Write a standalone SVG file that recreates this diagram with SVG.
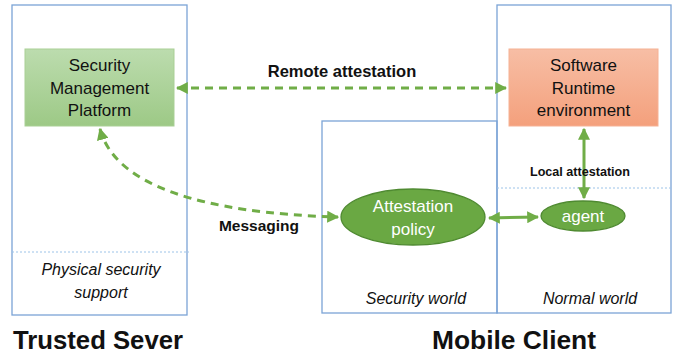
<svg xmlns="http://www.w3.org/2000/svg" width="684" height="356" viewBox="0 0 684 356">
  <defs>
    <linearGradient id="gGreen" x1="0" y1="0" x2="0" y2="1">
      <stop offset="0" stop-color="#bcdcae"/>
      <stop offset="1" stop-color="#9dc986"/>
    </linearGradient>
    <linearGradient id="gOrange" x1="0" y1="0" x2="0" y2="1">
      <stop offset="0" stop-color="#f7bea5"/>
      <stop offset="1" stop-color="#f4a07c"/>
    </linearGradient>
    <marker id="arr" viewBox="0 0 10 10" refX="9" refY="5" markerWidth="4" markerHeight="4" orient="auto-start-reverse" markerUnits="strokeWidth">
      <path d="M0,0 L10,5 L0,10 z" fill="#70ad47"/>
    </marker>
  </defs>
  <style>
    .frame { fill: none; stroke: #7ba4d6; stroke-width: 1.3; }
    .sep { fill: none; stroke: #9cc3e8; stroke-width: 1; stroke-dasharray: 2 2; }
    .lbl { font-family: "Liberation Sans", Arial, sans-serif; font-size: 17px; fill: #111; text-anchor: middle; }
    .it { font-family: "Liberation Sans", Arial, sans-serif; font-size: 16px; font-style: italic; fill: #111; text-anchor: middle; }
    .bold { font-family: "Liberation Sans", Arial, sans-serif; font-size: 15.5px; font-weight: bold; fill: #111; text-anchor: middle; }
    .bold.big { font-size: 16.5px; }
    .bold.small { font-size: 12.5px; }
    .title { font-family: "Liberation Sans", Arial, sans-serif; font-size: 25px; font-weight: bold; fill: #111; text-anchor: middle; }
    .wht { font-family: "Liberation Sans", Arial, sans-serif; font-size: 17px; fill: #fff; text-anchor: middle; }
    .dash { fill: none; stroke: #70ad47; stroke-width: 3; stroke-dasharray: 8 6; }
    .solid { fill: none; stroke: #70ad47; stroke-width: 3; }
  </style>

  <!-- Trusted server frame -->
  <g id="trusted-server">
    <rect class="frame" x="12" y="5" width="175" height="310"/>
    <line class="sep" x1="12" y1="252" x2="189" y2="252"/>
    <text class="it" x="101" y="275">Physical security</text>
    <text class="it" x="101" y="298">support</text>
    <text class="title" x="98" y="349" textLength="170" lengthAdjust="spacingAndGlyphs">Trusted Sever</text>
  </g>

  <!-- Mobile client frames -->
  <g id="security-world">
    <rect class="frame" x="322" y="121" width="175" height="192"/>
    <text class="it" x="416" y="304">Security world</text>
  </g>
  <g id="normal-world">
    <rect class="frame" x="497" y="5" width="174" height="308"/>
    <line class="sep" x1="497" y1="188" x2="671" y2="188"/>
    <text class="it" x="590" y="304">Normal world</text>
  </g>
  <text class="title" x="514" y="349" textLength="164" lengthAdjust="spacingAndGlyphs">Mobile Client</text>

  <!-- Nodes -->
  <g id="smp">
    <rect x="25" y="49" width="149" height="77" fill="url(#gGreen)" stroke="#a9cf95" stroke-width="1"/>
    <text class="lbl" x="99.5" y="71">Security</text>
    <text class="lbl" x="99.5" y="94">Management</text>
    <text class="lbl" x="99.5" y="116">Platform</text>
  </g>
  <g id="sre">
    <rect x="509" y="49" width="149" height="77" fill="url(#gOrange)" stroke="#f6b194" stroke-width="1"/>
    <text class="lbl" x="583.5" y="71">Software</text>
    <text class="lbl" x="583.5" y="94">Runtime</text>
    <text class="lbl" x="583.5" y="116">environment</text>
  </g>
  <g id="attestation-policy">
    <ellipse cx="413" cy="217" rx="72" ry="28" fill="#6aa843" stroke="#4f8a31" stroke-width="1.3"/>
    <text class="wht" x="413" y="212">Attestation</text>
    <text class="wht" x="413" y="235">policy</text>
  </g>
  <g id="agent">
    <ellipse cx="583" cy="216" rx="42" ry="15" fill="#6aa843" stroke="#4f8a31" stroke-width="1.3"/>
    <text class="wht" x="583" y="222">agent</text>
  </g>

  <!-- Connectors -->
  <g id="connectors">
    <line class="dash" x1="177" y1="88" x2="506" y2="88" marker-start="url(#arr)" marker-end="url(#arr)"/>
    <path class="dash" d="M100,129 C115,185 200,213 338,217" marker-start="url(#arr)" marker-end="url(#arr)"/>
    <line class="solid" x1="584" y1="129" x2="584" y2="198" marker-start="url(#arr)" marker-end="url(#arr)"/>
    <line class="solid" x1="489" y1="218" x2="538" y2="217" marker-start="url(#arr)" marker-end="url(#arr)"/>
    <text class="bold big" x="342" y="77">Remote attestation</text>
    <text class="bold" x="259" y="231">Messaging</text>
    <text class="bold small" x="580" y="176" textLength="100" lengthAdjust="spacingAndGlyphs">Local attestation</text>
  </g>
</svg>
